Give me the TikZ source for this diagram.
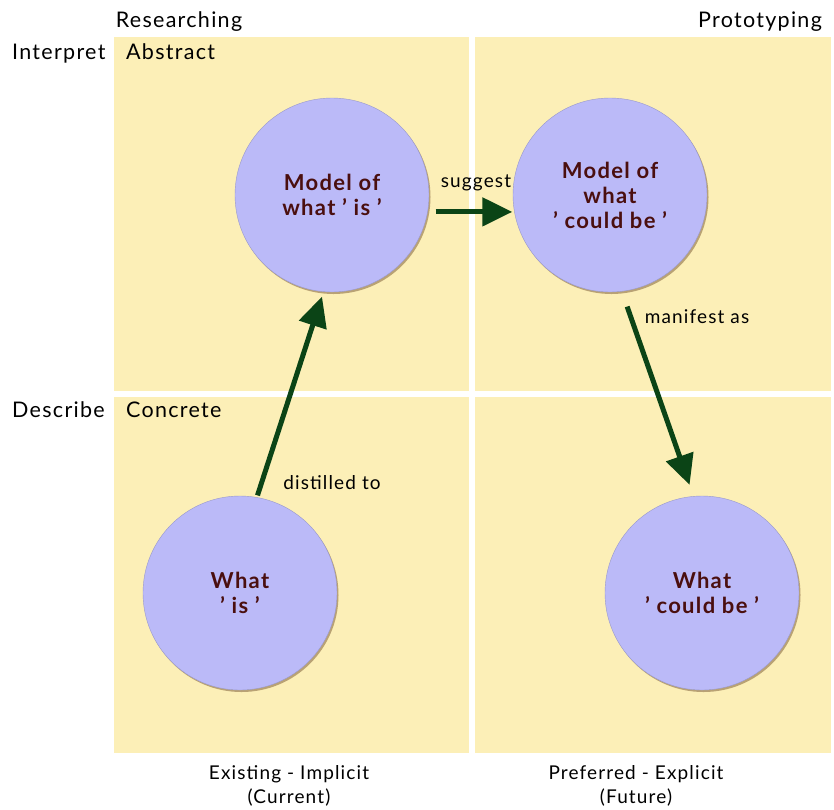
\documentclass[tikz,border=0pt]{standalone}
\usepackage{fontspec}
\setmainfont{Lato}[LetterSpace=6]
\usetikzlibrary{arrows.meta,shadows}

\definecolor{panel}{HTML}{FCEFB7}
\definecolor{bubblefill}{HTML}{BBBAF8}
\definecolor{arrowgreen}{HTML}{0B4416}
\definecolor{inktext}{HTML}{4A0F0F}

\begin{document}
\begin{tikzpicture}[x=1pt,y=-1pt,
  label text/.style={font=\fontsize{21.5}{24}\selectfont, text=black, inner sep=0pt},
  axis text/.style={font=\fontsize{19}{24}\selectfont, text=black, inner sep=0pt, align=center},
  flow text/.style={font=\fontsize{19}{22}\selectfont, text=black, inner sep=0pt},
  bubble/.style={circle, fill=bubblefill, draw=bubblefill!82!black, line width=0.4pt,
    minimum size=194pt, inner sep=0pt, align=center, text=inktext,
    font=\bfseries\fontsize{22}{25}\selectfont,
    drop shadow={shadow xshift=1.5pt, shadow yshift=-2pt, fill=black!45!brown, opacity=0.45}},
  flow/.style={draw=arrowgreen, line width=5pt,
    -{Triangle[length=30pt,width=28pt]}, shorten <=2pt, shorten >=5pt}]

  \useasboundingbox (0,0) rectangle (834,809);

  % four quadrants
  \fill[panel] (114,37)  rectangle (469,391);
  \fill[panel] (475,37)  rectangle (831,391);
  \fill[panel] (114,397) rectangle (469,753);
  \fill[panel] (475,397) rectangle (831,753);

  % axis captions
  \node[label text, anchor=base] (research) at (179,27) {Researching};
  \node[label text, anchor=base] (proto)    at (760,27) {Prototyping};
  \node[label text, anchor=base west] (interp)   at (12,59)  {Interpret};
  \node[label text, anchor=base west] (describe) at (12,417) {Describe};
  \node[label text, anchor=base west] (abstract) at (126,59)  {Abstract};
  \node[label text, anchor=base west] (concrete) at (126,417) {Concrete};
  \node[axis text, anchor=north] (current) at (289,765)
    {Existing - Implicit\\(Current)};
  \node[axis text, anchor=north] (future) at (636,765)
    {Preferred - Explicit\\(Future)};

  % models and artefacts
  \node[bubble] (modelis)    at (332,195) {Model of\\what ’ is ’};
  \node[bubble] (modelcould) at (610,195) {Model of\\what\\’ could be ’};
  \node[bubble] (whatis)     at (240,593) {What\\’ is ’};
  \node[bubble] (whatcould)  at (702,593) {What\\’ could be ’};

  % transitions
  \draw[flow] (whatis.80) -- (modelis.-95);
  \draw[flow, shorten <=8pt, shorten >=2pt] (modelis.-10) -- (modelcould.190);
  \draw[flow, shorten <=16pt, shorten >=12pt] (modelcould.-83) -- (whatcould.95.5);

  % transition captions
  \node[flow text] (suggestlbl)  at (476,183) {suggest};
  \node[flow text] (manifestlbl) at (697,317) {manifest as};
  \node[flow text] (distillbl)   at (332,483) {distilled to};
\end{tikzpicture}
\end{document}
